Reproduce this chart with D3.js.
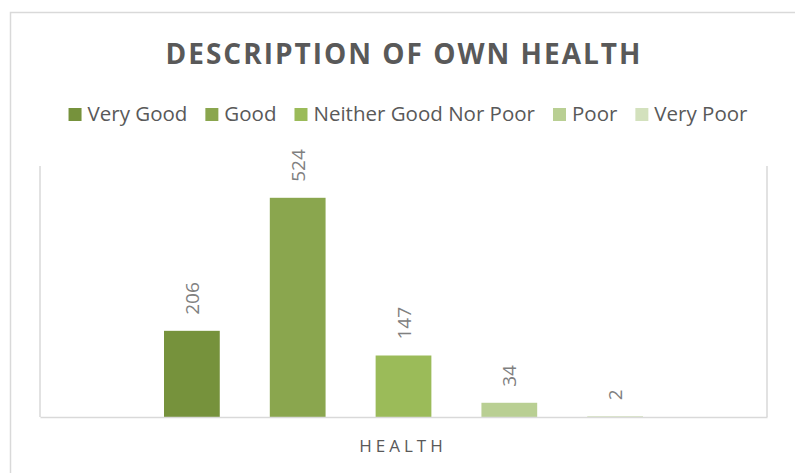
<!DOCTYPE html>
<html>
<head>
<meta charset="utf-8">
<script src="https://cdn.jsdelivr.net/npm/d3@7"></script>
<style>
  html, body { margin: 0; padding: 0; background: #fff; }
  svg { display: block; font-family: "Open Sans", sans-serif; }
</style>
</head>
<body>
<svg id="chart" width="795" height="473"></svg>
<script>
const title = "DESCRIPTION OF OWN HEALTH";
const categories = ["HEALTH"];
const seriesNames = ["Very Good", "Good", "Neither Good Nor Poor", "Poor", "Very Poor"];
const seriesValues = [206, 524, 147, 34, 2];
const seriesColors = ["#76923c", "#8aa64e", "#9bbb59", "#b9cf93", "#d3e1bd"];
const yDomain = [0, 600];

const svg = d3.select("#chart");
const W = 795, H = 473;
const plot = { left: 40, right: 767, top: 166, bottom: 417 };

// outer chart border
svg.append("rect")
  .attr("x", 10.5).attr("y", 12.5)
  .attr("width", W + 20).attr("height", H + 20)
  .attr("fill", "#fff").attr("stroke", "#d9d9d9").attr("stroke-width", 1.5);

// title
svg.append("text")
  .attr("x", 404).attr("y", 64)
  .attr("text-anchor", "middle")
  .attr("fill", "#595959")
  .attr("font-size", 28).attr("font-weight", 700)
  .attr("letter-spacing", "2px")
  .text(title);

// scales
const x0 = d3.scaleBand().domain(categories).range([plot.left, plot.right]).paddingInner(0).paddingOuter(0);
const groupInner = 124; // outer gap inside category
const x1 = d3.scaleBand().domain(seriesNames)
  .range([groupInner, x0.bandwidth() - groupInner])
  .paddingInner(0.473).paddingOuter(0);
const y = d3.scaleLinear().domain(yDomain).range([plot.bottom, plot.top]);

const data = seriesNames.map((s, i) => ({ series: s, value: seriesValues[i], color: seriesColors[i], cat: categories[0] }));

// plot frame lines (left, right)
const frame = svg.append("g").attr("stroke", "#d9d9d9").attr("stroke-width", 1.5);
frame.append("line").attr("x1", plot.left).attr("x2", plot.left).attr("y1", plot.top).attr("y2", plot.bottom);
frame.append("line").attr("x1", plot.right).attr("x2", plot.right).attr("y1", plot.top).attr("y2", plot.bottom);

// bars
svg.append("g").selectAll("rect").data(data).join("rect")
  .attr("x", d => x0(d.cat) + x1(d.series))
  .attr("width", x1.bandwidth())
  .attr("y", d => y(d.value))
  .attr("height", d => y(0) - y(d.value))
  .attr("fill", d => d.color);

// x axis line
const xAxis = d3.axisBottom(x0).tickSize(0).tickFormat("");
const gx = svg.append("g").attr("transform", `translate(0,${plot.bottom})`).call(xAxis);
gx.select(".domain").attr("stroke", "#d9d9d9").attr("stroke-width", 1.5);

// data labels (rotated)
svg.append("g").selectAll("text").data(data).join("text")
  .attr("transform", d => `translate(${x0(d.cat) + x1(d.series) + x1.bandwidth() / 2 + 7},${y(d.value) - 16}) rotate(-90)`)
  .attr("text-anchor", "start")
  .attr("fill", "#808080")
  .attr("font-size", 19)
  .text(d => d.value);

// axis title
svg.append("text")
  .attr("x", 403).attr("y", 452)
  .attr("text-anchor", "middle")
  .attr("fill", "#595959")
  .attr("font-size", 17)
  .attr("letter-spacing", "4px")
  .text(categories[0]);

// legend
const legend = svg.append("g");
const sq = 13, sqGap = 6, itemGap = 18;
let cx = 0;
data.forEach(d => {
  const g = legend.append("g");
  g.append("rect").attr("x", 0).attr("y", -sq).attr("width", sq).attr("height", sq).attr("fill", d.color);
  const t = g.append("text").attr("x", sq + sqGap).attr("y", 0)
    .attr("fill", "#595959").attr("font-size", 20.5).text(d.series);
  const w = sq + sqGap + t.node().getComputedTextLength();
  g.attr("transform", `translate(${cx},0)`);
  cx += w + itemGap;
});
const totalW = cx - itemGap;
legend.attr("transform", `translate(${408 - totalW / 2},${121})`);
</script>
</body>
</html>
